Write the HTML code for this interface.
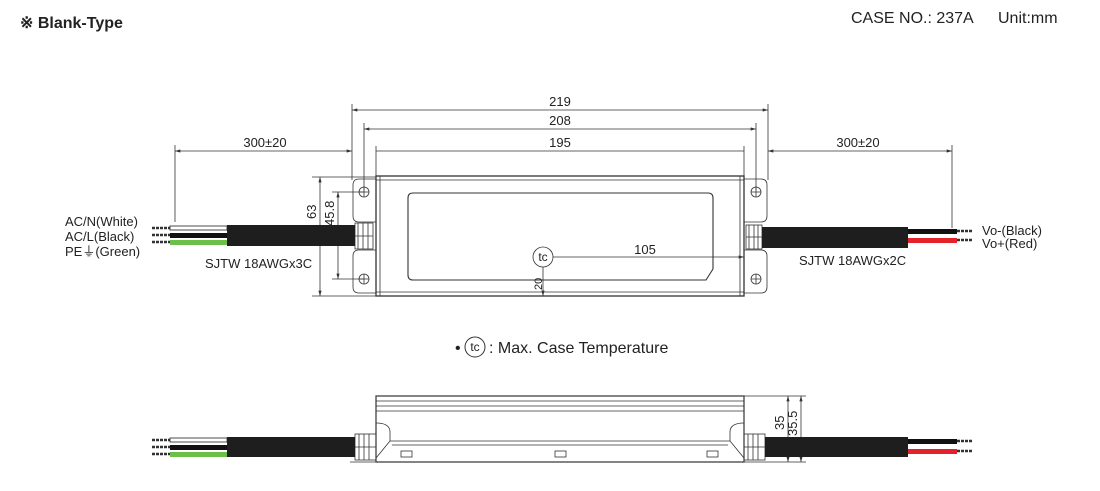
<!DOCTYPE html>
<html><head><meta charset="utf-8"><style>
body{margin:0;background:#fff;width:1100px;height:491px;overflow:hidden}
svg{display:block}
text{font-family:"Liberation Sans Narrow","Liberation Sans",sans-serif;fill:#222}
</style></head><body>
<svg width="1100" height="491" viewBox="0 0 1100 491" xmlns="http://www.w3.org/2000/svg">
<defs>
<marker id="a" viewBox="0 0 10 6" refX="10" refY="3" markerWidth="7" markerHeight="4" orient="auto-start-reverse"><path d="M0,0 L10,3 L0,6z" fill="#333"/></marker>
</defs>
<text x="20" y="28" font-size="16" font-weight="bold">※ Blank-Type</text>
<text x="851" y="23" font-size="16">CASE NO.: 237A</text>
<text x="998" y="23" font-size="16">Unit:mm</text>

<g stroke="#333" stroke-width="0.8" fill="none">
<line x1="352" y1="104" x2="352" y2="180"/><line x1="768" y1="104" x2="768" y2="180"/>
<line x1="364" y1="123" x2="364" y2="190"/><line x1="756" y1="123" x2="756" y2="190"/>
<line x1="376" y1="146" x2="376" y2="176"/><line x1="744" y1="146" x2="744" y2="176"/>
<line x1="175" y1="145" x2="175" y2="222"/><line x1="952" y1="145" x2="952" y2="228"/>
<line x1="352" y1="110" x2="768" y2="110" marker-start="url(#a)" marker-end="url(#a)"/>
<line x1="364" y1="129" x2="756" y2="129" marker-start="url(#a)" marker-end="url(#a)"/>
<line x1="376" y1="151" x2="744" y2="151"/>
<line x1="175" y1="151" x2="352" y2="151" marker-start="url(#a)" marker-end="url(#a)"/>
<line x1="768" y1="151" x2="952" y2="151" marker-start="url(#a)" marker-end="url(#a)"/>
<line x1="312" y1="177" x2="376" y2="177"/><line x1="312" y1="296" x2="376" y2="296"/>
<line x1="320" y1="177" x2="320" y2="296" marker-start="url(#a)" marker-end="url(#a)"/>
<line x1="332" y1="192" x2="364" y2="192"/><line x1="332" y1="279" x2="364" y2="279"/>
<line x1="338" y1="192" x2="338" y2="279" marker-start="url(#a)" marker-end="url(#a)"/>
<rect x="376" y="176" width="368" height="120" stroke-width="1.3"/>
<line x1="376" y1="180" x2="744" y2="180"/><line x1="376" y1="292" x2="744" y2="292"/>
<line x1="380" y1="176" x2="380" y2="296"/><line x1="740" y1="176" x2="740" y2="296"/>
<path d="M376,179 H359 Q353,179 353,185 V216 Q353,222 359,222 H376 M376,250 H359 Q353,250 353,256 V287 Q353,293 359,293 H376"/>
<path d="M744,179 H761 Q767,179 767,185 V216 Q767,222 761,222 H744 M744,250 H761 Q767,250 767,256 V287 Q767,293 761,293 H744"/>
<circle cx="364" cy="192" r="5"/><circle cx="364" cy="279" r="5"/>
<circle cx="756" cy="192" r="5"/><circle cx="756" cy="279" r="5"/>
<path d="M359,192h10M364,187v10M359,279h10M364,274v10M751,192h10M756,187v10M751,279h10M756,274v10"/>
<rect x="355" y="223" width="18" height="26"/><rect x="746" y="225" width="16" height="24"/>
<path d="M358,223v26M363,223v26M368,223v26M355,236h18M749,225v24M754,225v24M758,225v24M746,237h16"/>
<path d="M413,193 H708 Q713,193 713,198 V269 L706,280 H413 Q408,280 408,275 V198 Q408,193 413,193Z" stroke-width="1.1"/>
<circle cx="543" cy="257" r="10"/>
<line x1="553" y1="257" x2="744" y2="257" marker-end="url(#a)"/>
<line x1="543" y1="267" x2="543" y2="296" marker-end="url(#a)"/>
<rect x="376" y="396" width="368" height="66" stroke-width="1.2"/>
<line x1="376" y1="401" x2="744" y2="401"/><line x1="376" y1="406" x2="744" y2="406"/><line x1="376" y1="411" x2="744" y2="411"/>
<path d="M376,423 Q390,423 390,432 V441 L376,458 M744,423 Q730,423 730,432 V441 L744,458 M390,441 H730 M392,445 H728"/>
<rect x="401" y="451" width="11" height="6"/><rect x="555" y="451" width="11" height="6"/><rect x="707" y="451" width="11" height="6"/>
<rect x="355" y="434" width="21" height="26"/><rect x="744" y="434" width="21" height="26"/>
<path d="M359,434v26M364,434v26M369,434v26M355,447h21M748,434v26M753,434v26M758,434v26M744,447h21"/>
<line x1="350" y1="462" x2="376" y2="462"/><line x1="744" y1="462" x2="768" y2="462"/>
<line x1="744" y1="396" x2="806" y2="396"/><line x1="768" y1="462" x2="806" y2="462"/>
<line x1="788" y1="396" x2="788" y2="462" marker-start="url(#a)" marker-end="url(#a)"/>
<line x1="801" y1="396" x2="801" y2="462" marker-start="url(#a)" marker-end="url(#a)"/>
</g>

<rect x="227" y="225" width="128" height="21" fill="#1e1e1e"/>
<rect x="170" y="226" width="57" height="4" fill="#fff" stroke="#222" stroke-width="0.8"/>
<rect x="170" y="233" width="57" height="5" fill="#111"/>
<rect x="170" y="240" width="57" height="5" fill="#6cc04a"/>
<g fill="none" stroke="#333" stroke-width="2.5" stroke-dasharray="3,1">
<line x1="152" y1="228" x2="170" y2="228"/><line x1="152" y1="235" x2="170" y2="235"/><line x1="152" y1="242" x2="170" y2="242"/>
<line x1="957" y1="231" x2="973" y2="231"/><line x1="957" y1="240" x2="973" y2="240"/>
<line x1="152" y1="440" x2="170" y2="440"/><line x1="152" y1="447" x2="170" y2="447"/><line x1="152" y1="454" x2="170" y2="454"/>
<line x1="957" y1="441" x2="973" y2="441"/><line x1="957" y1="451" x2="973" y2="451"/>
</g>
<rect x="762" y="227" width="146" height="21" fill="#1e1e1e"/>
<rect x="908" y="229" width="49" height="5" fill="#111"/>
<rect x="908" y="238" width="49" height="5" fill="#e5222a"/>
<rect x="227" y="437" width="128" height="20" fill="#1e1e1e"/>
<rect x="170" y="438" width="57" height="4" fill="#fff" stroke="#222" stroke-width="0.8"/>
<rect x="170" y="445" width="57" height="5" fill="#111"/>
<rect x="170" y="452" width="57" height="5" fill="#6cc04a"/>
<rect x="765" y="437" width="143" height="20" fill="#1e1e1e"/>
<rect x="908" y="439" width="49" height="5" fill="#111"/>
<rect x="908" y="449" width="49" height="5" fill="#e5222a"/>

<g font-size="13">
<text x="560" y="106" text-anchor="middle">219</text>
<text x="560" y="125" text-anchor="middle">208</text>
<text x="560" y="147" text-anchor="middle">195</text>
<text x="265" y="147" text-anchor="middle">300±20</text>
<text x="858" y="147" text-anchor="middle">300±20</text>
<text x="645" y="254" text-anchor="middle">105</text>
<text x="543" y="261" font-size="12" text-anchor="middle">tc</text>
<text transform="translate(316,219) rotate(-90)">63</text>
<text transform="translate(334,226) rotate(-90)">45.8</text>
<text transform="translate(542,290) rotate(-90)" font-size="11">20</text>
<text transform="translate(784,430) rotate(-90)">35</text>
<text transform="translate(797,436) rotate(-90)">35.5</text>
<text x="65" y="226">AC/N(White)</text>
<text x="65" y="241">AC/L(Black)</text>
<text x="65" y="256">PE⏚(Green)</text>
<text x="205" y="268">SJTW 18AWGx3C</text>
<text x="799" y="265">SJTW 18AWGx2C</text>
<text x="982" y="235">Vo-(Black)</text>
<text x="982" y="248">Vo+(Red)</text>
<text x="455" y="353" font-size="16">• </text>
<circle cx="475" cy="347" r="10" fill="none" stroke="#333"/>
<text x="475" y="351" font-size="12" text-anchor="middle">tc</text>
<text x="489" y="353" font-size="16">: Max. Case Temperature</text>
</g>
</svg>
</body></html>
